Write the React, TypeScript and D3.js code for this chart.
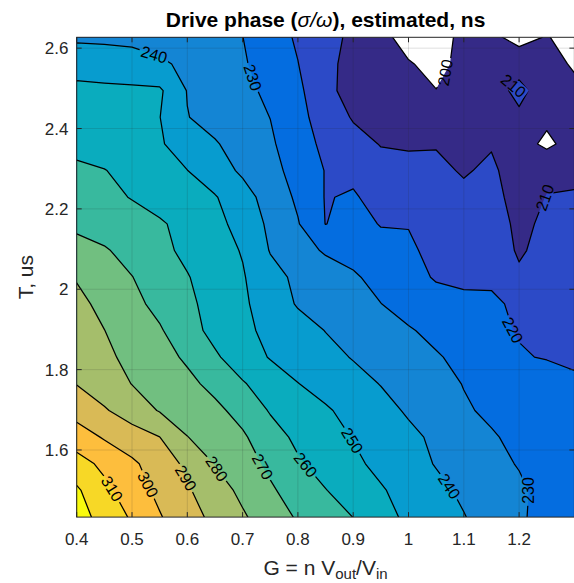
import React from "react";
import * as d3 from "d3";

// ---------- data ----------
const gainG = [0.4, 0.45, 0.5, 0.55, 0.6, 0.65, 0.7, 0.75, 0.8, 0.85, 0.9, 0.95, 1.0, 1.05, 1.1, 1.15, 1.2, 1.25, 1.3];
const periodT = [1.433, 1.4993, 1.5657, 1.632, 1.6983, 1.7647, 1.831, 1.8973, 1.9636, 2.03, 2.0963, 2.1626, 2.229, 2.2953, 2.3616, 2.428, 2.4943, 2.5606, 2.627];

// drive phase, ns; one row per T (bottom row first), one column per G
const phaseRows: number[][] = [
  [324, 316.5, 308.8, 300.7, 294, 287.5, 281.2, 274.9, 269, 264.5, 259.9, 253.4, 248.1, 244.3, 240.4, 236, 231.5, 226.3, 221],
  [321.4, 312.5, 304.7, 297.7, 291.1, 284.4, 277.8, 271.3, 265.7, 260.3, 255.6, 250.9, 246.5, 242.3, 238.4, 235.1, 231.7, 226.8, 220.5],
  [314, 307.7, 301.7, 295.2, 288, 279.6, 274, 268, 261.2, 256.4, 251.9, 247.6, 243.5, 239.5, 236.2, 232.8, 229.4, 225.4, 221.5],
  [304.8, 299.1, 294.6, 290.1, 280.2, 275.7, 271.3, 264.2, 257.9, 253.7, 249.6, 245.8, 242.1, 238.3, 234.5, 230.8, 228, 225.5, 223],
  [296.2, 291, 285.1, 279.4, 275.8, 272.2, 266.8, 259.2, 255.2, 251.1, 247, 243, 238.9, 235, 231, 228.5, 226.5, 224.5, 222.5],
  [289.7, 284.7, 279.8, 276, 272.3, 267.4, 260.8, 255.4, 250.2, 246.6, 243.1, 239.7, 236.3, 233, 229.7, 227.8, 225.6, 223.4, 221],
  [287.2, 282, 277.5, 273.3, 268.6, 261.3, 255, 249.4, 246, 242.7, 239.5, 236.6, 233.7, 230.8, 227.7, 224.5, 220.5, 219.6, 219],
  [284.7, 280.1, 275.6, 271, 263.7, 257.2, 252.1, 247.7, 243.7, 239.8, 236.8, 233.8, 230.8, 227.7, 224.6, 221.4, 219.6, 218.5, 217.6],
  [282.2, 277.8, 272.6, 267.3, 261.9, 256.7, 251.6, 245.2, 239.2, 236.2, 233.2, 230.1, 226.5, 223.5, 221.6, 220.9, 219, 217.6, 216.2],
  [279.4, 274.8, 270.2, 265.3, 260.5, 255.6, 250.8, 243.3, 238, 234.5, 231.1, 227.2, 223.1, 219.2, 218.6, 219.1, 212, 215.3, 215],
  [273, 270.9, 266.9, 262.3, 258, 253.9, 249.4, 239.5, 233.6, 229, 227, 223.5, 221.5, 217.4, 216.3, 217.3, 208.5, 214, 213.6],
  [268.2, 265.8, 263.4, 261, 257.3, 252.8, 246.6, 238, 230.6, 219.8, 223.5, 219.5, 219.6, 215.5, 214, 215.4, 207.5, 212, 212.2],
  [264.8, 262.2, 259.6, 256.6, 253.7, 250.7, 243.8, 236, 228.4, 219.5, 221, 216.5, 216, 213, 211.7, 213.4, 206, 210.3, 210.8],
  [261.3, 260.3, 257.2, 253.6, 250.1, 244.3, 238.5, 232.9, 226.7, 219.6, 217.8, 213.1, 212.4, 211.7, 209.3, 211.4, 206, 208, 208],
  [258, 255.6, 253.2, 250.8, 246.3, 240.8, 236, 231.3, 224.8, 217.5, 213.3, 209.6, 209.1, 209.5, 208, 209.4, 204, 198, 204],
  [254.7, 253.2, 251.7, 250.2, 240.3, 236.7, 233.3, 229.9, 222.9, 215.6, 209.2, 207, 206.3, 204.9, 206.5, 207, 208, 202, 204],
  [252.5, 252.3, 252, 251.5, 239.6, 236, 232.4, 228, 222, 212.8, 206, 203, 201.5, 200.2, 203, 205, 213, 204, 202],
  [245.8, 244.2, 242.6, 241, 238.7, 234.9, 231, 225.9, 220.2, 212.4, 207, 203, 200.8, 197, 203, 205, 205.6, 203, 199],
  [238.5, 238.5, 238.5, 237.5, 235, 232.5, 230.1, 224.4, 218.8, 213.3, 208, 203, 196, 195, 203, 202, 197, 200.6, 196],
];

const levels = [200, 210, 220, 230, 240, 250, 260, 270, 280, 290, 300, 310, 320];
const xTicks = [0.4, 0.5, 0.6, 0.7, 0.8, 0.9, 1.0, 1.1, 1.2];
const yTicks = [1.6, 1.8, 2.0, 2.2, 2.4, 2.6];

// contour label anchors (level, near G, near T)
const contourLabels = [
  { level: 240, g: 0.543, t: 2.596 },
  { level: 230, g: 0.726, t: 2.531 },
  { level: 200, g: 1.07, t: 2.536, angle: -80 },
  { level: 210, g: 1.198, t: 2.496, angle: 40 },
  { level: 210, g: 1.243, t: 2.23 },
  { level: 220, g: 1.167, t: 1.889 },
  { level: 250, g: 0.894, t: 1.62 },
  { level: 240, g: 1.072, t: 1.508 },
  { level: 230, g: 1.23, t: 1.47, angle: -90 },
  { level: 260, g: 0.813, t: 1.562 },
  { level: 270, g: 0.732, t: 1.555 },
  { level: 280, g: 0.65, t: 1.55 },
  { level: 290, g: 0.589, t: 1.525 },
  { level: 300, g: 0.525, t: 1.512 },
  { level: 310, g: 0.46, t: 1.5 },
];

// parula colormap (64)
const parula: number[][] = [
  [0.2081, 0.1663, 0.5292], [0.2116, 0.1898, 0.5777], [0.2123, 0.2138, 0.627], [0.2081, 0.2386, 0.6771],
  [0.1959, 0.2645, 0.7279], [0.1707, 0.2919, 0.7792], [0.1253, 0.3242, 0.8303], [0.0591, 0.3598, 0.8683],
  [0.0117, 0.3875, 0.882], [0.006, 0.4086, 0.8828], [0.0165, 0.4266, 0.8786], [0.0329, 0.443, 0.872],
  [0.0498, 0.4586, 0.8641], [0.0629, 0.4737, 0.8554], [0.0723, 0.4887, 0.8467], [0.0779, 0.504, 0.8384],
  [0.0793, 0.52, 0.8312], [0.0749, 0.5375, 0.8263], [0.0641, 0.557, 0.824], [0.0488, 0.5772, 0.8228],
  [0.0343, 0.5966, 0.8199], [0.0265, 0.6137, 0.8135], [0.0239, 0.6287, 0.8038], [0.0231, 0.6418, 0.7913],
  [0.0228, 0.6535, 0.7768], [0.0267, 0.6642, 0.7607], [0.0384, 0.6743, 0.7436], [0.059, 0.6838, 0.7254],
  [0.0843, 0.6928, 0.7062], [0.1133, 0.7015, 0.6859], [0.1453, 0.7098, 0.6646], [0.1801, 0.7177, 0.6424],
  [0.2178, 0.725, 0.6193], [0.2586, 0.7317, 0.5954], [0.3022, 0.7376, 0.5712], [0.3482, 0.7424, 0.5473],
  [0.3953, 0.7459, 0.5244], [0.442, 0.7481, 0.5033], [0.4871, 0.7491, 0.484], [0.53, 0.7491, 0.4661],
  [0.5709, 0.7485, 0.4494], [0.6099, 0.7473, 0.4337], [0.6473, 0.7456, 0.4188], [0.6834, 0.7435, 0.4044],
  [0.7184, 0.7411, 0.3905], [0.7525, 0.7384, 0.3768], [0.7858, 0.7356, 0.3633], [0.8185, 0.7327, 0.3498],
  [0.8507, 0.7299, 0.336], [0.8824, 0.7274, 0.3217], [0.9139, 0.7258, 0.3063], [0.945, 0.7261, 0.2886],
  [0.9739, 0.7314, 0.2666], [0.9938, 0.7455, 0.2403], [0.999, 0.7653, 0.2164], [0.9955, 0.7861, 0.1967],
  [0.988, 0.8066, 0.1794], [0.9789, 0.8271, 0.1633], [0.9697, 0.8481, 0.1475], [0.9626, 0.8705, 0.1309],
  [0.9589, 0.8949, 0.1132], [0.9598, 0.9218, 0.0948], [0.9661, 0.9514, 0.0755], [0.9763, 0.9831, 0.0538],
];

const FONT = "'Liberation Sans', Arial, Helvetica, sans-serif";
const AX = "#262626";

function colorFor(level: number, cmin: number, cmax: number) {
  const idx = Math.max(0, Math.min(63, Math.floor(((level - cmin) / (cmax - cmin)) * 64 + 1e-9)));
  const c = parula[idx];
  return d3.rgb(c[0] * 255, c[1] * 255, c[2] * 255).formatHex();
}

export default function App() {
  const W = 574, H = 583;
  const plot = { left: 76.7, right: 574.4, top: 37.3, bottom: 517.1 };
  const x = d3.scaleLinear().domain([0.4, 1.3]).range([plot.left, plot.right]);
  const y = d3.scaleLinear().domain([1.433, 2.627]).range([plot.bottom, plot.top]);

  const nx = gainG.length, ny = periodT.length;
  const values: number[] = [];
  for (let r = ny - 1; r >= 0; r--) values.push(...phaseRows[r]);
  const contours = d3.contours().size([nx, ny]).thresholds(levels)(values);

  const gx = d3.scaleLinear().domain([0.5, nx - 0.5]).range([gainG[0], gainG[nx - 1]]);
  const gy = d3.scaleLinear().domain([0.5, ny - 0.5]).range([periodT[ny - 1], periodT[0]]);
  const toPx = (p: number[]) => [x(gx(p[0])), y(gy(p[1]))];
  const proj = d3.geoTransform({
    point(px: number, py: number) {
      const q = toPx([px, py]);
      (this as any).stream.point(q[0], q[1]);
    },
  });
  const path = d3.geoPath(proj as any);

  const cmin = levels[0], cmax = 320;

  const lblFont = 16;
  const labels = contourLabels.map((l, k) => {
    const c = contours.find((cc) => cc.value === l.level);
    const ax = x(l.g), ay = y(l.t);
    let bx = ax, by = ay, bang = 0, bd = Infinity;
    const inside = (v: number[]) => v[0] > plot.left + 0.5 && v[0] < plot.right - 0.5 && v[1] > plot.top + 0.5 && v[1] < plot.bottom - 0.5;
    if (c) {
      for (const poly of c.coordinates as any) {
        for (const ring of poly) {
          const pts = ring.map(toPx);
          for (let i = 0; i < pts.length - 1; i++) {
            const p = pts[i], q = pts[i + 1];
            if (!inside(p) || !inside(q)) continue;
            const dx = q[0] - p[0], dy = q[1] - p[1];
            const len2 = dx * dx + dy * dy || 1;
            let t = ((ax - p[0]) * dx + (ay - p[1]) * dy) / len2;
            t = Math.max(0, Math.min(1, t));
            const cx = p[0] + t * dx, cy = p[1] + t * dy;
            const d = (cx - ax) ** 2 + (cy - ay) ** 2;
            if (d < bd) {
              bd = d; bx = cx; by = cy;
              const a = pts[Math.max(0, i - 1)], b = pts[Math.min(pts.length - 1, i + 2)];
              bang = (Math.atan2(b[1] - a[1], b[0] - a[0]) * 180) / Math.PI;
            }
          }
        }
      }
    }
    if (bang > 90) bang -= 180;
    if (bang <= -90) bang += 180;
    const angle = l.angle !== undefined ? l.angle : bang;
    return { key: k, text: String(l.level), x: bx, y: by, angle };
  });

  const lw = 3 * 0.556 * lblFont + 4;
  const lh = lblFont * 0.85;
  const cx = (plot.left + plot.right) / 2;

  return (
    <svg width={W} height={H} style={{ position: "absolute", left: 0, top: 0, background: "#fff" }} fontFamily={FONT}>
      <defs>
        <clipPath id="plotclip">
          <rect x={plot.left} y={plot.top} width={plot.right - plot.left} height={plot.bottom - plot.top} />
        </clipPath>
        <mask id="lblmask" maskUnits="userSpaceOnUse" x={0} y={0} width={W} height={H}>
          <rect x={0} y={0} width={W} height={H} fill="#fff" />
          {labels.map((l) => (
            <rect key={l.key} x={-lw / 2} y={-lh / 2} width={lw} height={lh} fill="#000"
              transform={`translate(${l.x},${l.y}) rotate(${l.angle})`} />
          ))}
        </mask>
      </defs>
      <rect x={0} y={0} width={W} height={H} fill="#fff" />
      <g clipPath="url(#plotclip)">
        {contours.map((c) => (
          <path key={"f" + c.value} d={path(c as any) || ""} fill={colorFor(c.value, cmin, cmax)} stroke="none" />
        ))}
        <g mask="url(#lblmask)">
          {contours.map((c) => (
            <path key={"l" + c.value} d={path(c as any) || ""} fill="none" stroke="#000" strokeWidth={1.25} strokeLinejoin="round" />
          ))}
        </g>
        {xTicks.map((v) => (
          <line key={"gx" + v} x1={x(v)} x2={x(v)} y1={plot.top} y2={plot.bottom} stroke={AX} strokeOpacity={0.15} strokeWidth={1} />
        ))}
        {yTicks.map((v) => (
          <line key={"gy" + v} x1={plot.left} x2={plot.right} y1={y(v)} y2={y(v)} stroke={AX} strokeOpacity={0.15} strokeWidth={1} />
        ))}
        {labels.map((l) => (
          <text key={"t" + l.key} x={0} y={0} transform={`translate(${l.x},${l.y}) rotate(${l.angle})`}
            textAnchor="middle" dy="0.36em" fontSize={lblFont} fill="#000">{l.text}</text>
        ))}
      </g>
      <rect x={plot.left} y={plot.top} width={plot.right - plot.left} height={plot.bottom - plot.top} fill="none" stroke={AX} strokeWidth={1} />
      {xTicks.map((v) => (
        <g key={"xt" + v}>
          <line x1={x(v)} x2={x(v)} y1={plot.bottom} y2={plot.bottom - 5} stroke={AX} />
          <line x1={x(v)} x2={x(v)} y1={plot.top} y2={plot.top + 5} stroke={AX} />
          <text x={x(v)} y={545} textAnchor="middle" fontSize={17} fill={AX}>{String(+v.toFixed(1))}</text>
        </g>
      ))}
      {yTicks.map((v) => (
        <g key={"yt" + v}>
          <line x1={plot.left} x2={plot.left + 5} y1={y(v)} y2={y(v)} stroke={AX} />
          <line x1={plot.right} x2={plot.right - 5} y1={y(v)} y2={y(v)} stroke={AX} />
          <text x={68.5} y={y(v)} dy="0.36em" textAnchor="end" fontSize={17} fill={AX}>{String(+v.toFixed(1))}</text>
        </g>
      ))}
      <text x={cx} y={27} textAnchor="middle" fontSize={21} fontWeight="bold" fill="#000">
        Drive phase (<tspan fontStyle="italic" fontWeight="normal">σ/ω</tspan>), estimated, ns
      </text>
      <text x={cx} y={574.5} textAnchor="middle" fontSize={21} fill={AX}>
        G = n V<tspan fontSize={15} dy={4.5}>out</tspan><tspan dy={-4.5}>/V</tspan><tspan fontSize={15} dy={4.5}>in</tspan>
      </text>
      <text transform={`translate(33,${(plot.top + plot.bottom) / 2}) rotate(-90)`} textAnchor="middle" fontSize={21} fill={AX}>
        T, us
      </text>
    </svg>
  );
}
